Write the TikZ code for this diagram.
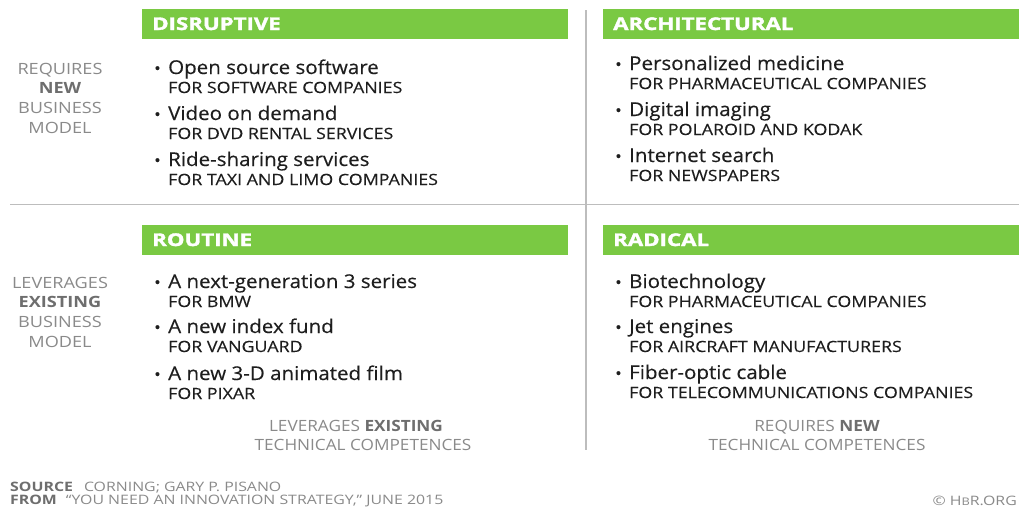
\documentclass[tikz,border=0pt]{standalone}
\usepackage{fontspec}
\setmainfont{Open Sans}
\newfontfamily\heavyfont[FakeStretch=1.27, BoldFeatures={FakeBold=2}]{Open Sans}
\newfontfamily\titlefont[FakeStretch=1.08, FakeBold=0.3]{Open Sans}
\newfontfamily\subfont[FakeStretch=1.15, FakeBold=0.2]{Open Sans}
\newfontfamily\sidefont[FakeStretch=1.17]{Open Sans}
\newfontfamily\axisfont[FakeStretch=1.11]{Open Sans}
\newfontfamily\footfont[FakeStretch=1.22]{Open Sans}
\definecolor{hbrgreen}{HTML}{7AC943}
\definecolor{rulegray}{HTML}{BDBDBD}
\definecolor{ink}{HTML}{1E1E1E}
\definecolor{graytxt}{HTML}{8A8A8A}
\definecolor{graydark}{HTML}{6E6E6E}
\tikzset{
  hdrbar/.style={fill=hbrgreen, draw=none, inner sep=0pt, minimum height=30pt, anchor=north west},
  hdrtext/.style={anchor=base west, inner sep=0pt, text=white, font=\heavyfont\bfseries\fontsize{17.5}{17.5}\selectfont},
  ititle/.style={anchor=base west, inner sep=0pt, text=ink, font=\titlefont\fontsize{19}{19}\selectfont},
  isub/.style={anchor=base west, inner sep=0pt, text=ink, font=\subfont\fontsize{15.5}{15.5}\selectfont},
  bullet/.style={anchor=base west, inner sep=0pt, text=ink, font=\titlefont\fontsize{16}{16}\selectfont},
  sidelab/.style={anchor=base, inner sep=0pt, text=graytxt, font=\sidefont\fontsize{15.5}{15.5}\selectfont},
  sidebold/.style={anchor=base, inner sep=0pt, text=graydark, font=\sidefont\bfseries\fontsize{15.5}{15.5}\selectfont},
  axislab/.style={anchor=base, inner sep=0pt, text=graytxt, font=\axisfont\fontsize{15.5}{15.5}\selectfont},
  foot/.style={anchor=base west, inner sep=0pt, text=graytxt, font=\footfont\fontsize{13}{13}\selectfont},
  gridrule/.style={draw=rulegray, line width=1.5pt}
}
\newcommand{\entry}[5]{% name, x, y, title, sub
  \node[bullet] (#1b) at (#2-14,#3) {•};
  \node[ititle] (#1t) at (#2,#3) {#4};
  \node[isub] (#1s) at (#2,#3+19) {#5};
}
\begin{document}
\begin{tikzpicture}[x=1pt,y=-1pt]
\useasboundingbox (0,0) rectangle (1019,509);
\fill[white] (0,0) rectangle (1019,509);
% grid rules
\coordinate (hl) at (10,204.5);
\coordinate (hr) at (1019,204.5);
\coordinate (vt) at (586,10);
\coordinate (vb) at (586,450);
\draw[gridrule] (hl) -- (hr);
\draw[gridrule] (vt) -- (vb);
% header bars
\node[hdrbar, minimum width=426pt] (bar1) at (142,9) {};
\node[hdrbar, minimum width=420pt] (bar2) at (603,9) {};
\node[hdrbar, minimum width=426pt] (bar3) at (142,224.5) {};
\node[hdrbar, minimum width=420pt] (bar4) at (603,224.5) {};
\node[hdrtext] (h1) at (152,30) {DISRUPTIVE};
\node[hdrtext] (h2) at (613,30) {ARCHITECTURAL};
\node[hdrtext] (h3) at (152,246) {ROUTINE};
\node[hdrtext] (h4) at (613,246) {RADICAL};
% side labels
\node[sidelab] (r1) at (60,74) {REQUIRES};
\node[sidebold] (r2) at (60,93) {NEW};
\node[sidelab] (r3) at (60,113) {BUSINESS};
\node[sidelab] (r4) at (60,133) {MODEL};
\node[sidelab] (l1) at (60,288) {LEVERAGES};
\node[sidebold] (l2) at (60,307) {EXISTING};
\node[sidelab] (l3) at (60,327) {BUSINESS};
\node[sidelab] (l4) at (60,347) {MODEL};
% entries: disruptive
\entry{da}{168}{74}{Open source software}{FOR SOFTWARE COMPANIES}
\entry{db}{168}{120}{Video on demand}{FOR DVD RENTAL SERVICES}
\entry{dc}{168}{166}{Ride-sharing services}{FOR TAXI AND LIMO COMPANIES}
% architectural
\entry{aa}{629}{70}{Personalized medicine}{FOR PHARMACEUTICAL COMPANIES}
\entry{ab}{629}{116}{Digital imaging}{FOR POLAROID AND KODAK}
\entry{ac}{629}{162}{Internet search}{FOR NEWSPAPERS}
% routine
\entry{ra}{168}{288}{A next-generation 3 series}{FOR BMW}
\entry{rb}{168}{333}{A new index fund}{FOR VANGUARD}
\entry{rc}{168}{380}{A new 3-D animated film}{FOR PIXAR}
% radical
\entry{xa}{629}{288}{Biotechnology}{FOR PHARMACEUTICAL COMPANIES}
\entry{xb}{629}{333}{Jet engines}{FOR AIRCRAFT MANUFACTURERS}
\entry{xc}{629}{379}{Fiber-optic cable}{FOR TELECOMMUNICATIONS COMPANIES}
% axis labels
\node[axislab] (t1) at (356,431) {LEVERAGES \textcolor{graydark}{\bfseries EXISTING}};
\node[axislab] (t2) at (363,450) {TECHNICAL COMPETENCES};
\node[axislab] (t3) at (817,431) {REQUIRES \textcolor{graydark}{\bfseries NEW}};
\node[axislab] (t4) at (817,450) {TECHNICAL COMPETENCES};
% footer
\node[foot] (f1) at (10,491) {\textcolor{graydark}{\bfseries SOURCE}\hspace{11pt}CORNING; GARY P. PISANO};
\node[foot] (f2) at (10,504) {\textcolor{graydark}{\bfseries FROM}\hspace{9pt}“YOU NEED AN INNOVATION STRATEGY,” JUNE 2015};
\node[foot, anchor=base east] (f3) at (1017,505) {© H{\fontsize{10.5}{10.5}\selectfont B}R.ORG};
\end{tikzpicture}
\end{document}
